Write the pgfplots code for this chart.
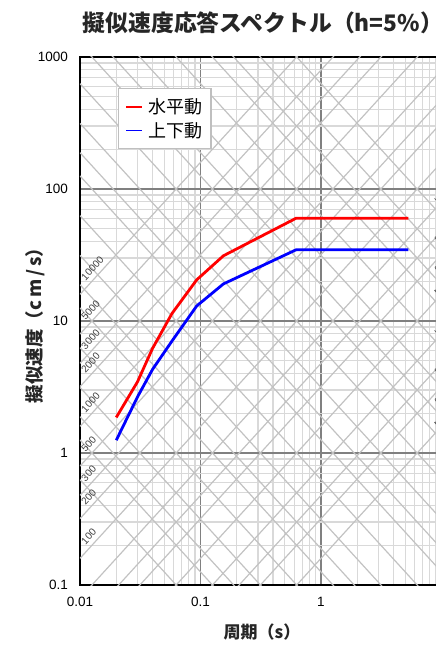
\documentclass[border=0pt]{standalone}
\usepackage{fontspec}
\setmainfont{Liberation Sans}
\newfontfamily\cjk{Noto Sans CJK JP}
\usepackage{pgfplots}
\pgfplotsset{compat=1.18}
\definecolor{majgrid}{HTML}{808080}
\definecolor{mingrid}{HTML}{D9D9D9}
\definecolor{diagc}{HTML}{C2C2C2}
\definecolor{lblc}{HTML}{404040}
\definecolor{legc}{HTML}{BFBFBF}
\begin{document}
\begin{tikzpicture}
\begin{axis}[
  at={(80pt,61pt)}, anchor=south west,
  scale only axis, width=361.5pt, height=528pt,
  xmode=log, ymode=log,
  xmin=0.01, xmax=10, ymin=0.1, ymax=1000,
  xtick={0.01,0.1,1,10}, xticklabels={0.01,0.1,1,{}},
  ytick={0.1,1,10,100,1000}, yticklabels={0.1,1,10,100,1000},
  minor xtick={0.02,0.03,0.04,0.05,0.06,0.07,0.08,0.09,0.2,0.3,0.4,0.5,0.6,0.7,0.8,0.9,2,3,4,5,6,7,8,9},
  minor ytick={0.2,0.3,0.4,0.5,0.6,0.7,0.8,0.9,2,3,4,5,6,7,8,9,20,30,40,50,60,70,80,90,200,300,400,500,600,700,800,900},
  grid=both,
  major grid style={majgrid, line width=1.1pt},
  minor grid style={mingrid, line width=1.1pt},
  major tick length=0pt, minor tick length=0pt,
  axis line style={black, line width=1.5pt},
  tick label style={font=\fontsize{13.5}{15}\selectfont, /pgf/number format/assume math mode=true},
  xticklabel style={anchor=north, inner sep=0pt, yshift=-12pt},
  yticklabel style={anchor=east, inner sep=0pt, xshift=-12pt},
  legend cell align=left,
  legend style={at={(rel axis cs:0.105,0.941)}, anchor=north west, draw=legc, line width=1.2pt, fill=white,
    font=\cjk\fontsize{18}{20}\selectfont, inner xsep=7pt, inner ysep=8pt, row sep=3pt},
  legend image code/.code={\draw[#1, line width=1.5pt] (0pt,0pt) -- (16pt,0pt);},
  diag/.style={diagc, line width=1.2pt, forget plot},
]
% acceleration lines (gal): A = 1,2,3,5 ... 10000
\addplot[diag] coordinates {(0.01,0.00159155) (10,1.59155)};
\addplot[diag] coordinates {(0.01,0.0031831) (10,3.1831)};
\addplot[diag] coordinates {(0.01,0.00477465) (10,4.77465)};
\addplot[diag] coordinates {(0.01,0.00795775) (10,7.95775)};
\addplot[diag] coordinates {(0.01,0.0159155) (10,15.9155)};
\addplot[diag] coordinates {(0.01,0.031831) (10,31.831)};
\addplot[diag] coordinates {(0.01,0.0477465) (10,47.7465)};
\addplot[diag] coordinates {(0.01,0.0795775) (10,79.5775)};
\addplot[diag] coordinates {(0.01,0.159155) (10,159.155)};
\addplot[diag] coordinates {(0.01,0.31831) (10,318.31)};
\addplot[diag] coordinates {(0.01,0.477465) (10,477.465)};
\addplot[diag] coordinates {(0.01,0.795775) (10,795.775)};
\addplot[diag] coordinates {(0.01,1.59155) (10,1591.55)};
\addplot[diag] coordinates {(0.01,3.1831) (10,3183.1)};
\addplot[diag] coordinates {(0.01,4.77465) (10,4774.65)};
\addplot[diag] coordinates {(0.01,7.95775) (10,7957.75)};
\addplot[diag] coordinates {(0.01,15.9155) (10,15915.5)};
% displacement lines (cm): D = 0.001 ... 100
\addplot[diag] coordinates {(0.01,0.628319) (10,0.000628319)};
\addplot[diag] coordinates {(0.01,1.25664) (10,0.00125664)};
\addplot[diag] coordinates {(0.01,1.88496) (10,0.00188496)};
\addplot[diag] coordinates {(0.01,3.14159) (10,0.00314159)};
\addplot[diag] coordinates {(0.01,6.28319) (10,0.00628319)};
\addplot[diag] coordinates {(0.01,12.5664) (10,0.0125664)};
\addplot[diag] coordinates {(0.01,18.8496) (10,0.0188496)};
\addplot[diag] coordinates {(0.01,31.4159) (10,0.0314159)};
\addplot[diag] coordinates {(0.01,62.8319) (10,0.0628319)};
\addplot[diag] coordinates {(0.01,125.664) (10,0.125664)};
\addplot[diag] coordinates {(0.01,188.496) (10,0.188496)};
\addplot[diag] coordinates {(0.01,314.159) (10,0.314159)};
\addplot[diag] coordinates {(0.01,628.319) (10,0.628319)};
\addplot[diag] coordinates {(0.01,1256.64) (10,1.25664)};
\addplot[diag] coordinates {(0.01,1884.96) (10,1.88496)};
\addplot[diag] coordinates {(0.01,3141.59) (10,3.14159)};
\addplot[diag] coordinates {(0.01,6283.19) (10,6.28319)};
\addplot[diag] coordinates {(0.01,12566.4) (10,12.5664)};
\addplot[diag] coordinates {(0.01,18849.6) (10,18.8496)};
\addplot[diag] coordinates {(0.01,31415.9) (10,31.4159)};
\addplot[diag] coordinates {(0.01,62831.9) (10,62.8319)};
% spectra
\addplot[color=red, line width=2.8pt] coordinates {(0.02,1.86) (0.03,3.46) (0.04,6.2) (0.058,11.4) (0.093,20.5) (0.155,31.2) (0.62,60) (5.3,60)};
\addlegendentry{\hspace{3pt}水平動\hspace{8pt}}
\addplot[color=blue, line width=2.8pt] coordinates {(0.02,1.25) (0.03,2.66) (0.04,4.3) (0.058,7.05) (0.093,13.0) (0.155,19.1) (0.62,34.6) (5.3,34.6)};
\addlegendentry{\hspace{3pt}上下動\hspace{8pt}}
% line labels
\begin{scope}[every node/.style={font=\fontsize{10}{11}\selectfont, text=lblc, inner sep=0pt}]
\node[rotate=47.5, anchor=south west, yshift=4.5pt] at (axis cs:0.0119,0.18939) {100};
\node[rotate=47.5, anchor=south west, yshift=4.5pt] at (axis cs:0.0119,0.37879) {200};
\node[rotate=47.5, anchor=south west, yshift=4.5pt] at (axis cs:0.0119,0.56818) {300};
\node[rotate=47.5, anchor=south west, yshift=4.5pt] at (axis cs:0.0119,0.94697) {500};
\node[rotate=47.5, anchor=south west, yshift=4.5pt] at (axis cs:0.0119,1.8939) {1000};
\node[rotate=47.5, anchor=south west, yshift=4.5pt] at (axis cs:0.0119,3.7879) {2000};
\node[rotate=47.5, anchor=south west, yshift=4.5pt] at (axis cs:0.0119,5.6818) {3000};
\node[rotate=47.5, anchor=south west, yshift=4.5pt] at (axis cs:0.0119,9.4697) {5000};
\node[rotate=47.5, anchor=south west, yshift=4.5pt] at (axis cs:0.0119,18.939) {10000};
\node[rotate=-47.5, anchor=south west, yshift=6pt] at (axis cs:7.9,79.53) {100};
\node[rotate=-47.5, anchor=south west, yshift=6pt] at (axis cs:7.9,39.77) {50};
\node[rotate=-47.5, anchor=south west, yshift=6pt] at (axis cs:7.9,23.86) {30};
\node[rotate=-47.5, anchor=south west, yshift=6pt] at (axis cs:7.9,15.91) {20};
\node[rotate=-47.5, anchor=south west, yshift=6pt] at (axis cs:7.9,7.953) {10};
\node[rotate=-47.5, anchor=south west, yshift=6pt] at (axis cs:7.9,3.977) {5};
\node[rotate=-47.5, anchor=south west, yshift=6pt] at (axis cs:7.9,2.386) {3};
\node[rotate=-47.5, anchor=south west, yshift=6pt] at (axis cs:7.9,1.591) {2};
\end{scope}
\end{axis}
\node[font=\cjk\bfseries\fontsize{22.8}{26}\selectfont, text=black!85] at (263pt,623pt) {擬似速度応答スペクトル（h=5\%）};
\node[rotate=90, font=\cjk\bfseries\fontsize{18.5}{21}\selectfont, text=black!85] at (35pt,325pt) {擬似速度（c\kern3pt m\kern3pt/\kern3pt s）};
\node[font=\cjk\bfseries\fontsize{17}{21}\selectfont, text=black!85] at (262pt,14pt) {周期（s）};
\pgfresetboundingbox
\path[use as bounding box] (0pt,0pt) rectangle (436pt,646pt);
\end{tikzpicture}
\end{document}
